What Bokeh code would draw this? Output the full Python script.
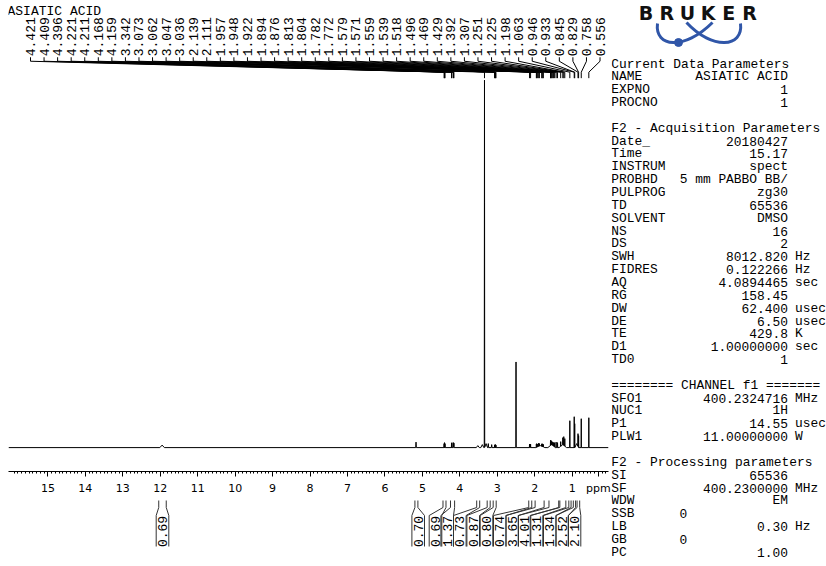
import math
from bokeh.plotting import figure
from bokeh.models import Range1d, FixedTicker
from bokeh.layouts import row, column
from bokeh.core.properties import value
from bokeh.embed import file_html
from bokeh.resources import INLINE

# ---------------- data ----------------
title = "ASIATIC ACID"

# peak list (ppm, height in plot units, half width in ppm)
peak_ppm = [11.95, 5.17, 4.421, 4.409, 4.396, 4.221, 4.211, 4.168, 4.159,
            3.52, 3.40, 3.342, 3.30, 3.24, 3.15, 3.073, 3.062, 3.047, 3.036,
            2.50, 2.139, 2.111, 1.957, 1.948, 1.922, 1.894, 1.876, 1.85,
            1.813, 1.804, 1.782, 1.772, 1.579, 1.571, 1.559, 1.539, 1.518, 1.496,
            1.55, 1.469, 1.429, 1.392, 1.307, 1.251, 1.225, 1.198, 1.25,
            1.063, 0.946, 0.933, 0.88, 0.845, 0.829, 0.758, 0.556]
peak_height = [2.5, 5.5, 4, 5, 4, 4.5, 5, 5, 4.5,
               2, 3, 369, 4, 4, 3, 2.5, 3, 3, 2.5,
               86, 3.5, 3.5, 3.5, 4, 3.5, 4.5, 4, 2,
               3.5, 4, 3.5, 3, 7, 7.5, 6.5, 6, 5.5, 5,
               3, 5, 5.5, 5, 6, 10, 11, 9, 3,
               27, 31, 24, 4, 14, 12, 29, 30]
peak_halfwidth = [0.06, 0.008, 0.005, 0.005, 0.005, 0.005, 0.005, 0.005, 0.005,
                  0.04, 0.04, 0.006, 0.04, 0.01, 0.01, 0.005, 0.005, 0.005, 0.005,
                  0.006, 0.005, 0.005, 0.004, 0.004, 0.005, 0.005, 0.005, 0.12,
                  0.004, 0.004, 0.004, 0.004, 0.004, 0.004, 0.005, 0.005, 0.005, 0.005,
                  0.1, 0.005, 0.005, 0.005, 0.005, 0.005, 0.005, 0.005, 0.1,
                  0.005, 0.004, 0.004, 0.05, 0.004, 0.004, 0.004, 0.004]

# picked peak labels (ppm)
picked = [4.421, 4.409, 4.396, 4.221, 4.211, 4.168, 4.159, 3.342, 3.073, 3.062,
          3.047, 3.036, 2.139, 2.111, 1.957, 1.948, 1.922, 1.894, 1.876, 1.813,
          1.804, 1.782, 1.772, 1.579, 1.571, 1.559, 1.539, 1.518, 1.496, 1.469,
          1.429, 1.392, 1.307, 1.251, 1.225, 1.198, 1.063, 0.946, 0.933, 0.845,
          0.829, 0.758, 0.556]

# integrals
int_values = [0.69, 0.70, 0.69, 1.37, 0.73, 0.87, 0.80, 0.74, 3.65, 4.01, 1.31, 1.34, 2.52, 2.10]
int_from = [12.04, 5.20, 4.45, 4.25, 3.55, 3.27, 3.11, 2.16, 1.99, 1.62, 1.33, 1.09, 0.97, 0.87]
int_to = [11.84, 5.12, 4.37, 4.14, 3.47, 3.19, 3.03, 2.08, 1.75, 1.36, 1.17, 1.03, 0.91, 0.80]

axis_ticks = list(range(1, 16))
unit_tick = 0.3
unit_label = "ppm"

# parameter listing: (name, value, unit)
param_lines = [
    ("Current Data Parameters", "", ""),
    ("NAME", "ASIATIC ACID", ""),
    ("EXPNO", "1", ""),
    ("PROCNO", "1", ""),
    ("", "", ""),
    ("F2 - Acquisition Parameters", "", ""),
    ("Date_", "20180427", ""),
    ("Time", "15.17", ""),
    ("INSTRUM", "spect", ""),
    ("PROBHD", "5 mm PABBO BB/", ""),
    ("PULPROG", "zg30", ""),
    ("TD", "65536", ""),
    ("SOLVENT", "DMSO", ""),
    ("NS", "16", ""),
    ("DS", "2", ""),
    ("SWH", "8012.820", "Hz"),
    ("FIDRES", "0.122266", "Hz"),
    ("AQ", "4.0894465", "sec"),
    ("RG", "158.45", ""),
    ("DW", "62.400", "usec"),
    ("DE", "6.50", "usec"),
    ("TE", "429.8", "K"),
    ("D1", "1.00000000", "sec"),
    ("TD0", "1", ""),
    ("", "", ""),
    ("======== CHANNEL f1 =======", "", ""),
    ("SFO1", "400.2324716", "MHz"),
    ("NUC1", "1H", ""),
    ("P1", "14.55", "usec"),
    ("PLW1", "11.00000000", "W"),
    ("", "", ""),
    ("F2 - Processing parameters", "", ""),
    ("SI", "65536", ""),
    ("SF", "400.2300000", "MHz"),
    ("WDW", "EM", ""),
    ("SSB", "", ""),
    ("LB", "0.30", "Hz"),
    ("GB", "", ""),
    ("PC", "1.00", ""),
]
# values printed in the short column (SSB, GB)
short_col = {"SSB": "0", "GB": "0"}

# ---------------- layout helpers ----------------
PX_PER_PPM = 37.45
PPM_LEFT = 16.052
PPM_RIGHT = PPM_LEFT - 600 / PX_PER_PPM


def px_to_ppm(xpx):
    return PPM_LEFT - (xpx - 8) / PX_PER_PPM


MONO = "Liberation Mono"
MONO_SIZE = "12.9px"
NAME_X, VAL_X, UNIT_X, SHORT_X = 610.8, 787.5, 794.5, 679

# ---------------- spectrum line ----------------
verts = {PPM_LEFT, PPM_RIGHT}
for p, w in zip(peak_ppm, peak_halfwidth):
    verts.update([p - w, p, p + w])
xs = sorted(verts, reverse=True)
ys = []
for x in xs:
    v = 0.0
    for p, h, w in zip(peak_ppm, peak_height, peak_halfwidth):
        t = h * (1 - abs(x - p) / w)
        if t > v:
            v = t
    ys.append(v)

xr = Range1d(PPM_LEFT, PPM_RIGHT)

pA = figure(width=611, height=497, x_range=xr, y_range=Range1d(-24, 449),
            output_backend="svg", toolbar_location=None, y_axis_location=None,
            min_border=0, min_border_left=8, min_border_right=3, min_border_top=0,
            min_border_bottom=24, outline_line_color=None)
pA.extra_y_ranges = {"py": Range1d(473, 0)}
pA.grid.visible = False
pA.background_fill_color = "white"
pA.border_fill_color = "white"

pA.line(xs, ys, line_color="black", line_width=1)

ax = pA.xaxis[0]
minor = [round(i * 0.1, 1) for i in range(1, 161) if i % 10 != 0 and i != 3]
ax.ticker = FixedTicker(ticks=axis_ticks + [unit_tick], minor_ticks=minor)
ax.major_label_overrides = {unit_tick: unit_label}
ax.axis_line_color = "black"
ax.major_tick_line_color = "black"
ax.minor_tick_line_color = "black"
ax.major_tick_in = 0
ax.major_tick_out = 5
ax.minor_tick_in = 0
ax.minor_tick_out = 2
ax.major_label_standoff = 5
ax.major_label_text_font = "DejaVu Sans"
ax.major_label_text_font_size = "11px"
ax.major_label_text_color = "black"

# title
pA.text(x=[px_to_ppm(7)], y=[11], text=[title], y_range_name="py",
        text_font=value(MONO), text_font_size="13px", text_align="left",
        text_baseline="middle", text_color="black")

# peak labels
n = len(picked)
lab_x = [px_to_ppm(30 + 13.56 * i) for i in range(n)]
pA.text(x=lab_x, y=[56] * n, text=["%.3f" % v for v in picked], angle=math.pi / 2,
        y_range_name="py", text_font=value(MONO), text_font_size="13px",
        text_align="left", text_baseline="middle", text_color="black")
con_xs = [[lx, lx, p, p] for lx, p in zip(lab_x, picked)]
con_ys = [[57, 61, 72, 78]] * n
pA.multi_line(con_xs, con_ys, y_range_name="py", line_color="black", line_width=1)

# ---------------- integrals ----------------
pB = figure(width=611, height=69, x_range=xr, y_range=Range1d(566, 497),
            output_backend="svg", toolbar_location=None, x_axis_location=None,
            y_axis_location=None, min_border=0, min_border_left=8, min_border_right=3,
            outline_line_color=None)
pB.grid.visible = False
label_px = [162, 417.7, 435, 446.7, 459.3, 472.7, 486, 499.3, 511.7, 524, 536, 549.3, 561.7, 574]
d = 6.3 / PX_PER_PPM
ixs, iys = [], []
cxs = []
for a, b, lp in zip(int_from, int_to, label_px):
    c = px_to_ppm(lp)
    cxs.append(c)
    ixs.append([a, a, c + d, c + d])
    iys.append([500, 507, 515, 546])
    ixs.append([b, b, c - d, c - d])
    iys.append([500, 507, 515, 546])
pB.multi_line(ixs, iys, line_color="#333333", line_width=1)
pB.text(x=cxs, y=[531] * len(cxs), text=["%.2f" % v for v in int_values],
        angle=math.pi / 2, text_font=value(MONO), text_font_size="13px",
        text_align="center", text_baseline="middle", text_color="black")

# ---------------- parameters panel ----------------
pC = figure(width=215, height=566, x_range=Range1d(611, 826), y_range=Range1d(566, 0),
            output_backend="svg", toolbar_location=None, x_axis_location=None,
            y_axis_location=None, min_border=0, outline_line_color=None)
pC.grid.visible = False

name_x, name_y, name_t = [], [], []
val_x, val_y, val_t = [], [], []
unit_x, unit_y, unit_t = [], [], []
for i, (name, val, unit) in enumerate(param_lines):
    y = 63.5 + i * 12.85
    if name:
        name_x.append(NAME_X); name_y.append(y); name_t.append(name)
    if val:
        val_x.append(VAL_X); val_y.append(y); val_t.append(val)
    if unit:
        unit_x.append(UNIT_X); unit_y.append(y); unit_t.append(unit)
    if name in short_col:
        unit_x.append(SHORT_X); unit_y.append(y); unit_t.append(short_col[name])

common = dict(text_font=value(MONO), text_font_size=MONO_SIZE, text_baseline="middle",
              text_color="black")
pC.text(x=name_x, y=name_y, text=name_t, text_align="left", **common)
pC.text(x=val_x, y=val_y, text=val_t, text_align="right", **common)
pC.text(x=unit_x, y=unit_y, text=unit_t, text_align="left", **common)

# Bruker logo
logo = list("BRUKER")
pC.text(x=[645.5 + i * 20.7 for i in range(6)], y=[12] * 6, text=logo,
        text_font=value("DejaVu Sans"), text_font_style="bold", text_font_size="19px",
        text_align="center", text_baseline="middle", text_color="#111111")
blue = "#3056a8"
pC.bezier(x0=[657, 740], y0=[23, 23], x1=[712, 686], y1=[22, 22],
          cx0=[654, 743], cy0=[47, 47], cx1=[684, 712], cy1=[50, 50],
          line_color=blue, line_width=3)
pC.scatter(x=[678], y=[42], size=8, color=blue)

layout = row(column(pA, pB, spacing=0), pC, spacing=0)
open("out.html", "w").write(file_html(layout, INLINE))
